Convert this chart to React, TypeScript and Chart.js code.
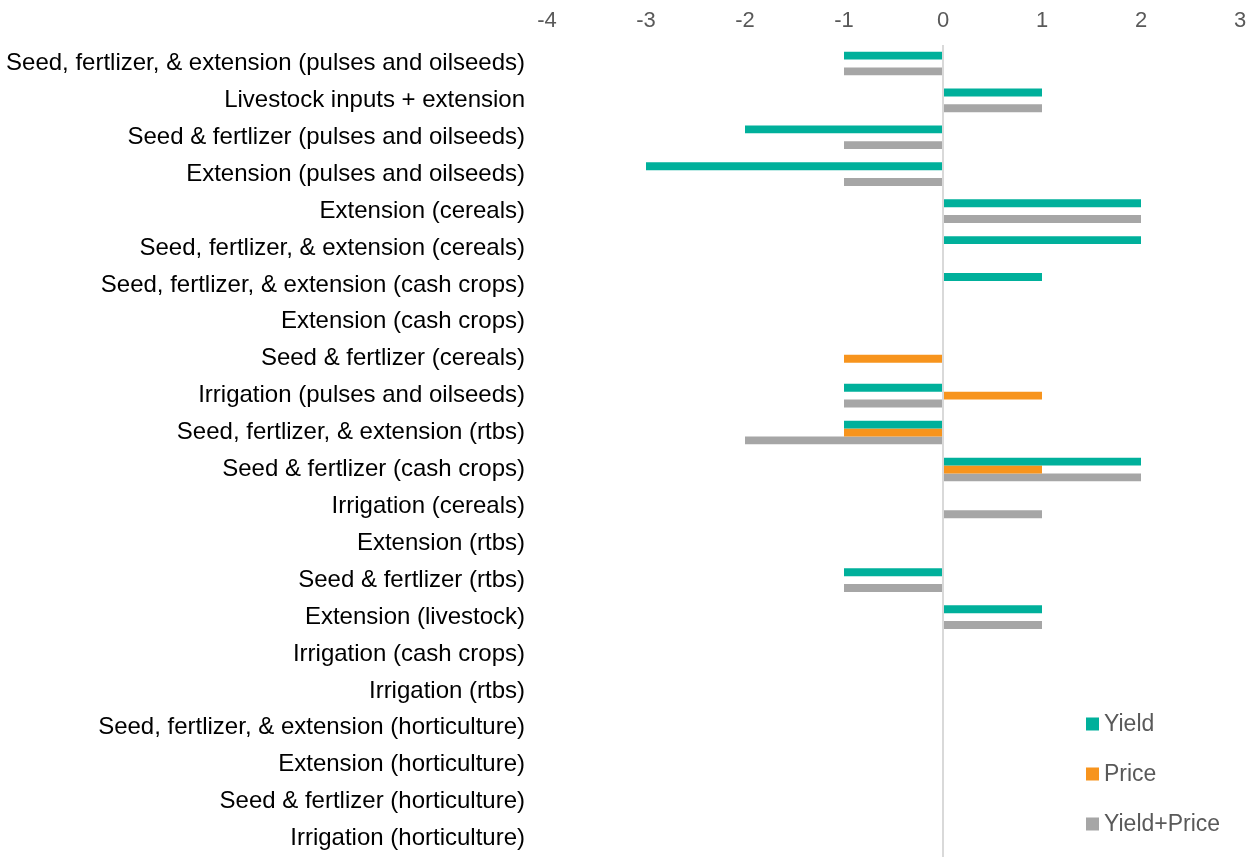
import React, { useEffect, useRef } from "react";
import { Chart, registerables } from "chart.js";

Chart.register(...registerables);

const categories: string[] = [
  "Seed, fertlizer, & extension (pulses and oilseeds)",
  "Livestock inputs + extension",
  "Seed & fertlizer (pulses and oilseeds)",
  "Extension (pulses and oilseeds)",
  "Extension (cereals)",
  "Seed, fertlizer, & extension (cereals)",
  "Seed, fertlizer, & extension (cash crops)",
  "Extension (cash crops)",
  "Seed & fertlizer (cereals)",
  "Irrigation (pulses and oilseeds)",
  "Seed, fertlizer, & extension (rtbs)",
  "Seed & fertlizer (cash crops)",
  "Irrigation (cereals)",
  "Extension (rtbs)",
  "Seed & fertlizer (rtbs)",
  "Extension (livestock)",
  "Irrigation (cash crops)",
  "Irrigation (rtbs)",
  "Seed, fertlizer, & extension (horticulture)",
  "Extension (horticulture)",
  "Seed & fertlizer (horticulture)",
  "Irrigation (horticulture)",
];

const yieldValues: (number | null)[] = [
  -1, 1, -2, -3, 2, 2, 1, null, null, -1, -1, 2, null, null, -1, 1, null, null, null, null, null, null,
];
const priceValues: (number | null)[] = [
  null, null, null, null, null, null, null, null, -1, 1, -1, 1, null, null, null, null, null, null, null, null, null, null,
];
const yieldPriceValues: (number | null)[] = [
  -1, 1, -1, -1, 2, null, null, null, null, -1, -2, 2, 1, null, -1, 1, null, null, null, null, null, null,
];

const seriesNames = ["Yield", "Price", "Yield+Price"];
const seriesColors = ["#00B09B", "#F7941D", "#A6A6A6"];

const FONT = "'Liberation Sans', Arial, sans-serif";

// Vertical legend in the lower right corner of the chart area
const cornerLegend = {
  id: "cornerLegend",
  afterDraw(chart: any) {
    const { ctx } = chart;
    ctx.save();
    ctx.font = `23px ${FONT}`;
    ctx.textBaseline = "middle";
    ctx.textAlign = "left";
    chart.data.datasets.forEach((ds: any, i: number) => {
      const cy = 724 + i * 50;
      ctx.fillStyle = ds.backgroundColor;
      ctx.fillRect(1086, cy - 6.5, 13, 13);
      ctx.fillStyle = "#595959";
      ctx.fillText(ds.label, 1104, cy + 1);
    });
    ctx.restore();
  },
};

export default function App() {
  const canvasRef = useRef<HTMLCanvasElement | null>(null);

  useEffect(() => {
    if (!canvasRef.current) return;
    const chart = new Chart(canvasRef.current, {
      type: "bar",
      data: {
        labels: categories,
        datasets: [yieldValues, priceValues, yieldPriceValues].map((vals, i) => ({
          label: seriesNames[i],
          data: vals,
          backgroundColor: seriesColors[i],
          borderWidth: 0,
          categoryPercentage: 0.64,
          barPercentage: 1,
        })),
      },
      options: {
        indexAxis: "y",
        animation: false,
        responsive: false,
        maintainAspectRatio: false,
        layout: { padding: { left: 0, right: 13, top: 0, bottom: 0 } },
        plugins: {
          legend: { display: false },
          tooltip: { enabled: false },
        },
        scales: {
          x: {
            type: "linear",
            position: "top",
            min: -4,
            max: 3,
            ticks: {
              stepSize: 1,
              color: "#595959",
              font: { family: FONT, size: 22 },
              padding: 11,
            },
            grid: {
              drawTicks: false,
              lineWidth: 2,
              color: (c: any) => (c.tick && c.tick.value === 0 ? "#D9D9D9" : "rgba(0,0,0,0)"),
            },
            border: { display: false },
            afterFit: (scale: any) => {
              scale.height = 45;
              scale.paddingLeft = 0;
              scale.paddingRight = 0;
            },
          },
          y: {
            type: "category",
            position: "left",
            ticks: {
              color: "#000000",
              font: { family: FONT, size: 24 },
              padding: 22,
              autoSkip: false,
            },
            grid: { display: false, drawTicks: false },
            border: { display: false },
            afterFit: (scale: any) => {
              scale.width = 547;
              scale.paddingTop = 0;
              scale.paddingBottom = 0;
            },
          },
        },
      },
      plugins: [cornerLegend],
    });
    return () => chart.destroy();
  }, []);

  return (
    <div style={{ position: "fixed", left: 0, top: 0, width: 1253, height: 857, background: "#fff" }}>
      <canvas ref={canvasRef} width={1253} height={857} />
    </div>
  );
}
